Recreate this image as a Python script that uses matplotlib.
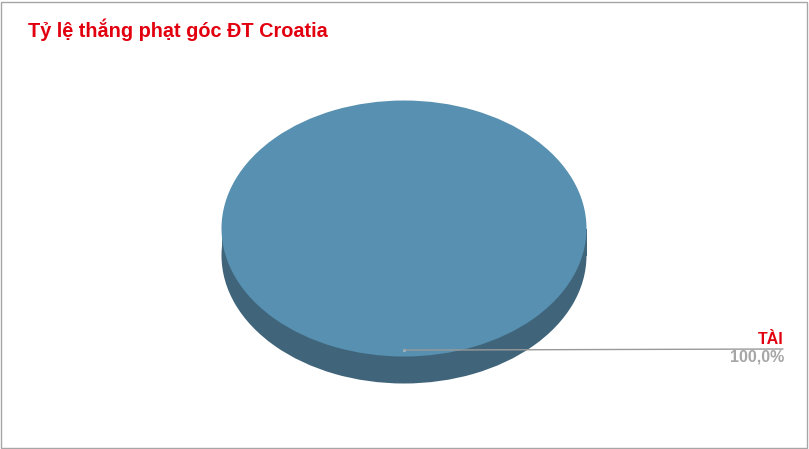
import matplotlib
matplotlib.use('Agg')
import matplotlib.pyplot as plt
from matplotlib.patches import Rectangle
import math

# chart data
title = 'Tỷ lệ thắng phạt góc ĐT Croatia'
categories = ['TÀI']
values = [100.0]

top_color = '#5790b0'
side_color = '#40657b'
red = '#e2000f'

W, H = 809, 449
fig = plt.figure(figsize=(W / 100, H / 100), dpi=100)
fig.patch.set_facecolor('white')
plt.rcParams['font.family'] = ['Liberation Sans', 'DejaVu Sans']

# outer border
fig.patches.append(Rectangle((0.5 / W, 1.5 / H), 806 / W, 446 / H, transform=fig.transFigure,
                             fill=False, edgecolor='#a6a6a6', linewidth=1))

fig.text(28 / W, 1 - 30 / H, title, color=red, fontsize=14.3, fontweight='bold', va='center', ha='left')

# pie placement (pixels): top face 221.5..586.5 x 100.5..356.5, depth 27
left, right, top, face_bottom, depth = 221.5, 586.5, 100.5, 356.5, 27
ry_px = (face_bottom - top) / 2
d = depth / ry_px
ax = fig.add_axes([left / W, 1 - (face_bottom + depth) / H, (right - left) / W, (face_bottom + depth - top) / H])

# side of the cylinder
ax.pie(values, colors=[side_color], center=(0, -d), radius=1, startangle=90, counterclock=False,
       wedgeprops=dict(linewidth=0))
ax.add_patch(Rectangle((-1, -d), 2, d, facecolor=side_color, edgecolor='none'))
# top face
wedges, _ = ax.pie(values, colors=[top_color], radius=1, startangle=90, counterclock=False,
                   wedgeprops=dict(linewidth=0))
for w in wedges:
    w.set_zorder(3)
ax.set_aspect('auto')
ax.set_xlim(-1, 1)
ax.set_ylim(-1 - d, 1)
ax.axis('off')

total = sum(values)
for cat, val, w in zip(categories, values, wedges):
    # leader from slice middle to right label
    mid = (w.theta1 + w.theta2) / 2
    px, py = 0.95 * math.cos(math.radians(mid)), 0.95 * math.sin(math.radians(mid))
    ax.plot([px], [py], 'o', color='#a9c0cf', markersize=2.2, markeredgewidth=0, zorder=5, clip_on=False)
    ax.annotate('', xy=(px, py), xycoords='data', xytext=(783, H - 349), textcoords='figure pixels',
                arrowprops=dict(arrowstyle='-', color='#999999', linewidth=1, shrinkA=0, shrinkB=0),
                annotation_clip=False, zorder=5)
    fig.text(784 / W, 1 - 340 / H, cat, color=red, fontsize=11.5, fontweight='bold', ha='right', va='center')
    pct = f'{val / total * 100:.1f}%'.replace('.', ',')
    fig.text(784 / W, 1 - 357.5 / H, pct, color='#a6a6a6', fontsize=11.5, fontweight='bold',
             ha='right', va='center')

fig.savefig('out.png', dpi=100, facecolor='white')
